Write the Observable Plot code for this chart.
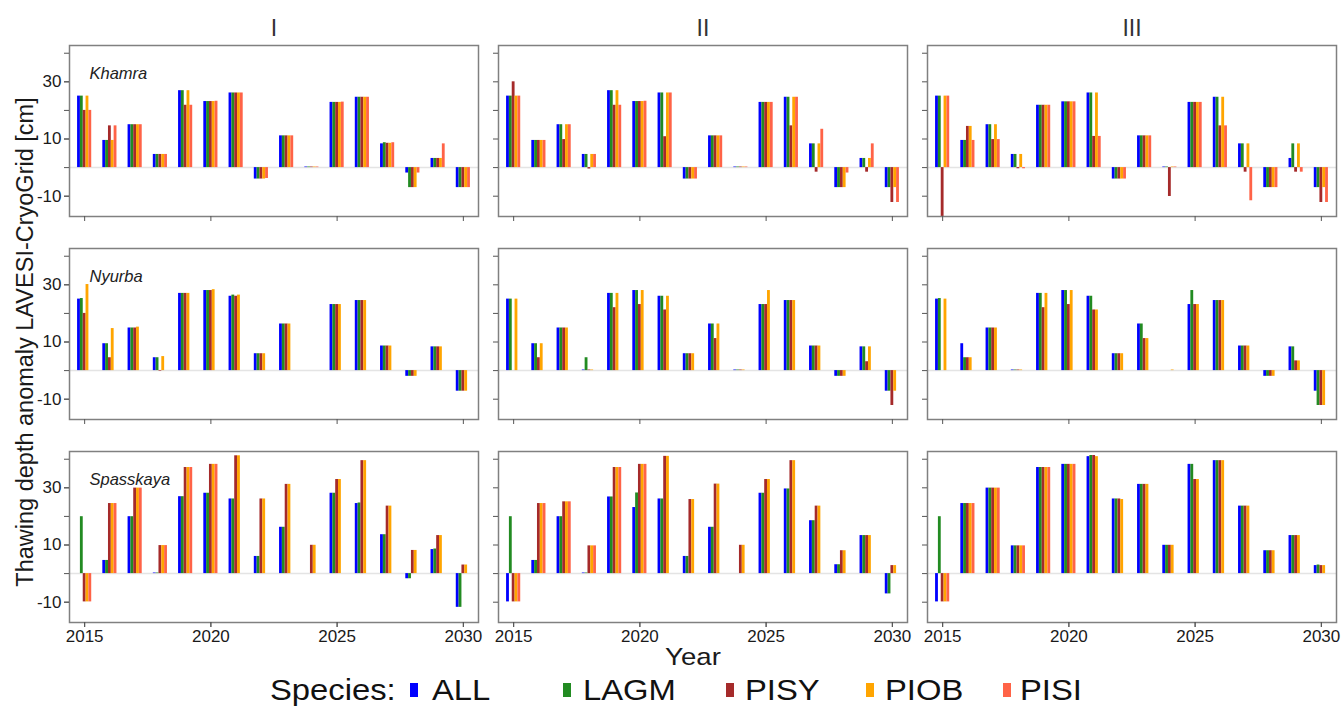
<!DOCTYPE html>
<html>
<head>
<meta charset="utf-8">
<script src="https://cdn.jsdelivr.net/npm/d3@7"></script>
<script src="https://cdn.jsdelivr.net/npm/@observablehq/plot@0.6"></script>
<style>
  html, body { margin: 0; padding: 0; background: #fff; }
  #wrap { width: 1343px; font-family: "Liberation Sans", Arial, sans-serif; }
  #legend { position: relative; width: 1343px; height: 39px; color: #111; font-size: 29px; }
  #legend span { position: absolute; top: 50%; transform: translateY(-50%) scaleX(1.13); transform-origin: left center; white-space: nowrap; line-height: 1; }
  #legend i { position: absolute; top: 50%; width: 8px; height: 14px; transform: translateY(-50%); }
</style>
</head>
<body>
<div id="wrap"></div>
<script>
// Thawing depth anomaly (cm) per site, scenario and species, 2015–2030
const years = [2015, 2016, 2017, 2018, 2019, 2020, 2021, 2022, 2023, 2024, 2025, 2026, 2027, 2028, 2029, 2030];
const species = ["ALL", "LAGM", "PISY", "PIOB", "PISI"];
const speciesColors = ["#0000FF", "#228B22", "#A52A2A", "#FFA500", "#FF6347"];
const sites = ["Khamra", "Nyurba", "Spasskaya"];
const scenarios = ["I", "II", "III"];
const xTicks = [2015, 2020, 2025, 2030];
const yTicks = [-10, 0, 10, 20, 30, 40];
const yTickLabels = [-10, 10, 30];

// Khamra
const khamraI_ALL  = [25, 9.5, 15, 4.6, 26.9, 23.1, 26.1, -4, 11.1, 0.2, 22.8, 24.6, 8.3, -1.9, 3.2, -7];
const khamraI_LAGM = [25, 9.5, 15, 4.6, 26.9, 23.1, 26.1, -4, 11.1, 0.2, 22.8, 24.6, 8.7, -7, 3.2, -7];
const khamraI_PISY = [20, 14.6, 15, 4.6, 21.8, 23.1, 26.1, -4, 11.1, 0.2, 22.8, 24.6, 8.5, -7, 3.2, -7];
const khamraI_PIOB = [25, 9.5, 15, 4.6, 26.9, 23.1, 26.1, -4, 11.1, 0.2, 22.8, 24.6, 8.5, -7, 3.2, -7];
const khamraI_PISI = [20, 14.6, 15, 4.6, 21.8, 23.2, 26.1, -3.8, 11.1, 0.2, 22.9, 24.6, 8.7, -1.9, 8.3, -7];

const khamraII_ALL  = [25, 9.5, 15, 4.6, 26.9, 23.1, 26.1, -4, 11.1, 0.2, 22.8, 24.6, 8.3, -7, 3.2, -7];
const khamraII_LAGM = [25, 9.5, 15, 4.6, 26.9, 23.1, 26.1, -4, 11.1, 0.2, 22.8, 24.6, 8.3, -7, 3.2, -7];
const khamraII_PISY = [30, 9.5, 9.8, -0.5, 21.8, 23.1, 10.8, -4, 11.1, 0.2, 22.8, 14.6, -1.6, -7, -1.6, -12.2];
const khamraII_PIOB = [25, 9.5, 15, 4.6, 26.9, 23.1, 26.1, -4, 11.1, 0.2, 22.8, 24.6, 8.3, -7, 3.2, -7];
const khamraII_PISI = [25, 9.5, 15, 4.6, 21.8, 23.2, 26.1, -4, 11.1, 0.2, 22.8, 24.6, 13.4, -1.9, 8.3, -12.2];

const khamraIII_ALL  = [25, 9.5, 15, 4.6, 21.8, 23, 26.1, -4, 11.1, 0.2, 22.8, 24.6, 8.3, -7, 3.2, -7];
const khamraIII_LAGM = [25, 9.5, 15, 4.6, 21.8, 23, 26.1, -4, 11.1, 0.2, 22.8, 24.6, 8.3, -7, 8.3, -7];
const khamraIII_PISY = [-18, 14.4, 9.8, -0.4, 21.8, 23, 10.9, -4, 11.1, -10.1, 22.8, 14.6, -1.6, -7, -1.6, -12.2];
const khamraIII_PIOB = [25, 14.4, 15, 4.6, 21.8, 23, 26.1, -4, 11.1, 0.2, 22.8, 24.6, 8.3, -7, 8.3, -7];
const khamraIII_PISI = [25, 9.5, 9.8, -0.4, 21.8, 23, 10.9, -4, 11.1, 0.2, 22.8, 14.6, -11.6, -7, -1.6, -12.2];

// Nyurba (no PISI runs)
const nyurbaI_ALL  = [25, 9.4, 14.9, 4.5, 27, 28, 26, 5.9, 16.3, 0, 23.1, 24.5, 8.6, -2, 8.3, -7.2];
const nyurbaI_LAGM = [25.2, 9.4, 14.9, 4.5, 27, 28, 26.4, 5.9, 16.3, 0, 23.1, 24.5, 8.6, -2, 8.3, -7.2];
const nyurbaI_PISY = [20, 4.5, 14.9, -0.2, 27, 28, 26, 5.9, 16.3, 0, 23.1, 24.5, 8.6, -2, 8.3, -7.2];
const nyurbaI_PIOB = [30.1, 14.7, 15.2, 4.9, 27, 28.3, 26.4, 5.9, 16.3, 0, 23.1, 24.5, 8.6, -2, 8.3, -7.2];

const nyurbaII_ALL  = [25, 9.4, 14.9, 0.2, 27, 28, 26, 5.9, 16.3, 0.2, 23.1, 24.5, 8.6, -2, 8.3, -7.2];
const nyurbaII_LAGM = [25, 9.4, 14.9, 4.5, 27, 28, 26, 5.9, 16.3, 0.2, 23.1, 24.5, 8.6, -2, 8.3, -7.2];
const nyurbaII_PISY = [0, 4.5, 14.9, 0.2, 22, 23.1, 21.2, 5.9, 11.2, 0.2, 23.1, 24.5, 8.6, -2, 3.1, -12.2];
const nyurbaII_PIOB = [25, 9.4, 14.9, 0.2, 27, 28, 26, 5.9, 16.3, 0.2, 28, 24.5, 8.6, -2, 8.3, -7.2];

const nyurbaIII_ALL  = [25, 9.4, 14.9, 0.2, 27, 28, 26, 5.9, 16.3, 0, 23.1, 24.5, 8.6, -2, 8.3, -7.2];
const nyurbaIII_LAGM = [25.2, 4.5, 14.9, 0.2, 27, 28, 26, 5.9, 16.3, 0, 28, 24.5, 8.6, -2, 8.3, -12.2];
const nyurbaIII_PISY = [0, 4.5, 14.9, 0.2, 22, 23.1, 21.2, 5.9, 11.2, 0, 23.1, 24.5, 8.6, -2, 3.4, -12.2];
const nyurbaIII_PIOB = [25, 4.5, 14.9, 0.2, 27, 28, 21.2, 5.9, 11.2, 0.2, 23.1, 24.5, 8.6, -2, 3.4, -12.2];

// Spasskaya (PISI runs end in 2020)
const spasskayaI_ALL  = [0, 4.6, 19.9, 0.2, 26.9, 28.1, 26.1, 6, 16.2, 0, 28.1, 24.5, 13.6, -1.8, 8.4, -11.8];
const spasskayaI_LAGM = [19.9, 4.6, 19.9, 0.2, 26.9, 28.1, 26.1, 6, 16.2, 0, 28.1, 24.7, 13.6, -1.8, 8.6, -11.8];
const spasskayaI_PISY = [-9.9, 24.5, 29.9, 9.8, 37.1, 38.2, 41.2, 26.1, 31.2, 9.9, 32.9, 39.5, 23.6, 8.1, 13.3, 3];
const spasskayaI_PIOB = [-9.9, 24.5, 29.9, 9.8, 37.1, 38.2, 41.2, 26.1, 31.2, 9.9, 32.9, 39.5, 23.6, 8.1, 13.3, 3];
const spasskayaI_PISI = [-9.9, 24.5, 29.9, 9.8, 37.1, 38.2, null, null, null, null, null, null, null, null, null, null];

const spasskayaII_ALL  = [-9.9, 4.6, 19.9, 0.2, 26.8, 23.1, 26.1, 6, 16.2, 0, 28.1, 29.6, 18.5, 3.1, 13.3, -7.1];
const spasskayaII_LAGM = [19.9, 4.6, 19.9, 0.2, 26.8, 28.2, 26.1, 6, 16.2, 0, 28.1, 29.6, 18.5, 3.1, 13.3, -7.1];
const spasskayaII_PISY = [-9.9, 24.5, 25.1, 9.7, 37.1, 38.2, 41, 25.9, 31.3, 9.9, 32.9, 39.5, 23.6, 8, 13.3, 2.8];
const spasskayaII_PIOB = [-9.9, 24.5, 25.1, 9.7, 37.1, 38.2, 41, 25.9, 31.3, 9.9, 32.9, 39.5, 23.6, 8, 13.3, 2.8];
const spasskayaII_PISI = [-9.9, 24.5, 25.1, 9.7, 37.1, 38.2, null, null, null, null, null, null, null, null, null, null];

const spasskayaIII_ALL  = [-9.9, 24.5, 29.9, 9.7, 37.1, 38.2, 40.9, 26.1, 31.2, 9.9, 38.2, 39.5, 23.6, 8, 13.3, 2.8];
const spasskayaIII_LAGM = [19.9, 24.5, 29.9, 9.7, 37.1, 38.2, 41.3, 26.1, 31.2, 9.9, 38.2, 39.5, 23.6, 8, 13.3, 3];
const spasskayaIII_PISY = [-9.9, 24.5, 29.9, 9.7, 37.1, 38.2, 41.3, 26.1, 31.2, 9.9, 32.9, 39.5, 23.6, 8, 13.3, 2.8];
const spasskayaIII_PIOB = [-9.9, 24.5, 29.9, 9.7, 37.1, 38.2, 40.9, 25.9, 31.2, 9.9, 32.9, 39.5, 23.6, 8, 13.3, 2.8];
const spasskayaIII_PISI = [-9.9, 24.5, 29.9, 9.7, 37.1, 38.2, null, null, null, null, null, null, null, null, null, null];

// Panel lookup: site × scenario → one series per species
const panels = [
  ["Khamra", "I",   {ALL: khamraI_ALL, LAGM: khamraI_LAGM, PISY: khamraI_PISY, PIOB: khamraI_PIOB, PISI: khamraI_PISI}],
  ["Khamra", "II",  {ALL: khamraII_ALL, LAGM: khamraII_LAGM, PISY: khamraII_PISY, PIOB: khamraII_PIOB, PISI: khamraII_PISI}],
  ["Khamra", "III", {ALL: khamraIII_ALL, LAGM: khamraIII_LAGM, PISY: khamraIII_PISY, PIOB: khamraIII_PIOB, PISI: khamraIII_PISI}],
  ["Nyurba", "I",   {ALL: nyurbaI_ALL, LAGM: nyurbaI_LAGM, PISY: nyurbaI_PISY, PIOB: nyurbaI_PIOB}],
  ["Nyurba", "II",  {ALL: nyurbaII_ALL, LAGM: nyurbaII_LAGM, PISY: nyurbaII_PISY, PIOB: nyurbaII_PIOB}],
  ["Nyurba", "III", {ALL: nyurbaIII_ALL, LAGM: nyurbaIII_LAGM, PISY: nyurbaIII_PISY, PIOB: nyurbaIII_PIOB}],
  ["Spasskaya", "I",   {ALL: spasskayaI_ALL, LAGM: spasskayaI_LAGM, PISY: spasskayaI_PISY, PIOB: spasskayaI_PIOB, PISI: spasskayaI_PISI}],
  ["Spasskaya", "II",  {ALL: spasskayaII_ALL, LAGM: spasskayaII_LAGM, PISY: spasskayaII_PISY, PIOB: spasskayaII_PIOB, PISI: spasskayaII_PISI}],
  ["Spasskaya", "III", {ALL: spasskayaIII_ALL, LAGM: spasskayaIII_LAGM, PISY: spasskayaIII_PISY, PIOB: spasskayaIII_PIOB, PISI: spasskayaIII_PISI}]
];

// Long table: one row per bar
const rows = [];
for (const [site, scenario, series] of panels) {
  species.forEach((sp, k) => {
    const values = series[sp];
    if (!values) return;
    values.forEach((v, i) => {
      if (v == null) return;
      rows.push({site, scenario, species: sp, k, year: years[i], value: v});
    });
  });
}

// Dodged bars: five slots per year, centred on the year
const groupWidth = 0.56;
const slot = groupWidth / species.length;

const textColor = "#1a1a1a";

const chart = Plot.plot({
  width: 1343,
  height: 670,
  marginTop: 45,
  marginBottom: 48,
  marginLeft: 68,
  marginRight: 6,
  style: {fontFamily: "'Liberation Sans', Arial, sans-serif", background: "#fff", color: textColor, overflow: "visible"},
  fx: {domain: scenarios, paddingInner: 0.046, paddingOuter: 0, label: null},
  fy: {domain: sites, paddingInner: 0.158, paddingOuter: 0, label: null, axis: null},
  x: {domain: [2014.4, 2030.6]},
  y: {domain: [-17.1, 42.7]},
  color: {domain: species, range: speciesColors},
  marks: [
    Plot.ruleY([0], {stroke: "#e4e4e4", strokeWidth: 1.5}),
    Plot.rect(rows, {
      fx: "scenario",
      fy: "site",
      x1: d => d.year - groupWidth / 2 + d.k * slot,
      x2: d => d.year - groupWidth / 2 + (d.k + 1) * slot,
      y1: () => 0,
      y2: "value",
      fill: "species",
      clip: "frame"
    }),
    Plot.frame({stroke: "#808080", strokeWidth: 1.5}),
    Plot.text(sites, {
      fx: () => "I",
      fy: d => d,
      text: d => d,
      frameAnchor: "top-left",
      dx: 20,
      dy: 22,
      fontStyle: "italic",
      fontSize: 16.5,
      fill: "#222"
    }),
    // tick marks on every panel
    Plot.axisX({ticks: xTicks, tickSize: 5, tickFormat: () => "", label: null, stroke: "#555", facetAnchor: null}),
    Plot.axisY({ticks: yTicks, tickSize: 5, tickFormat: () => "", label: null, stroke: "#555", facetAnchor: null}),
    // labelled axes on the outer panels
    Plot.axisX({ticks: xTicks, tickSize: 5, tickPadding: 2, tickFormat: d => String(d), label: null, fontSize: 17, stroke: "#555", fill: textColor}),
    Plot.axisY({ticks: yTickLabels, tickSize: 5, tickPadding: 3, tickFormat: d => String(d), label: null, fontSize: 17, stroke: "#555", fill: textColor}),
    Plot.axisFx({anchor: "top", tickSize: 0, tickPadding: 10, label: null, fontSize: 23, fill: "#333"})
  ]
});

const svg = d3.select(chart);
svg.append("text")
  .attr("transform", "translate(25,342) rotate(-90)")
  .attr("text-anchor", "middle")
  .attr("dy", "0.35em")
  .attr("font-size", 23.5)
  .attr("fill", textColor)
  .text("Thawing depth anomaly LAVESI-CryoGrid [cm]");
svg.append("text")
  .attr("transform", "translate(693,657) scale(1.15,1)")
  .attr("text-anchor", "middle")
  .attr("dy", "0.35em")
  .attr("font-size", 24)
  .attr("fill", textColor)
  .text("Year");

const wrap = document.getElementById("wrap");
wrap.appendChild(chart);

// Species legend
const legend = d3.select(wrap).append("div").attr("id", "legend");
legend.append("span").style("left", "270px").text("Species:");
const legendPos = [[410, 432], [563, 583], [726, 745], [866, 885], [1003, 1020]];
species.forEach((sp, k) => {
  legend.append("i").style("left", legendPos[k][0] + "px").style("background", speciesColors[k]);
  legend.append("span").style("left", legendPos[k][1] + "px").text(sp);
});
</script>
</body>
</html>
